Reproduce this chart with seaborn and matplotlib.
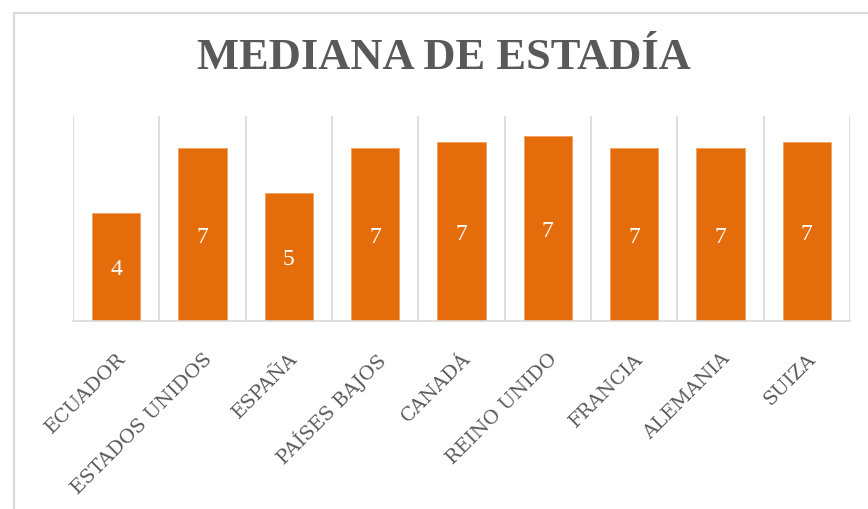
import matplotlib
matplotlib.use("Agg")
import matplotlib.pyplot as plt
import seaborn as sns
import pandas as pd
from matplotlib.patches import Rectangle

# Datos (dias, eje de 0 a 8)
paises = ['ECUADOR', 'ESTADOS UNIDOS', 'ESPAÑA', 'PAÍSES BAJOS', 'CANADÁ',
          'REINO UNIDO', 'FRANCIA', 'ALEMANIA', 'SUIZA']
mediana = [4.22, 6.76, 5.0, 6.76, 6.99, 7.23, 6.76, 6.76, 6.99]
titulo = 'MEDIANA DE ESTADÍA'

gris = '#595959'
naranja = '#E46C0A'

sns.set_theme(style='white')
plt.rcParams['font.family'] = ['Liberation Serif', 'DejaVu Serif']

df = pd.DataFrame({'pais': paises, 'mediana': mediana})

fig = plt.figure(figsize=(8.68, 5.10), dpi=100)
ax = fig.add_axes([73 / 868, 1 - 322 / 510, 777 / 868, 205 / 510])

sns.barplot(data=df, x='pais', y='mediana', color=naranja, saturation=1,
            width=0.56, edgecolor='#F0A060', linewidth=0.6, ax=ax)

# etiquetas de datos redondeadas, dentro de la barra
for i, v in enumerate(mediana):
    ax.text(i, v / 2 - 0.08, f'{v:.0f}', ha='center', va='center',
            color='white', fontsize=17)

ax.set_ylim(0, 8)
ax.set_xlim(-0.5, len(paises) - 0.5)
ax.set_yticks([])
ax.set_xlabel('')
ax.set_ylabel('')

# lineas verticales entre categorias
ax.set_xticks([i - 0.5 for i in range(len(paises) + 1)], minor=True)
ax.grid(True, which='minor', axis='x', color='#D9D9D9', linewidth=1.2)
ax.grid(False, which='major')
ax.set_axisbelow(True)

for s in ['top', 'left', 'right']:
    ax.spines[s].set_visible(False)
ax.spines['bottom'].set_color('#D9D9D9')
ax.spines['bottom'].set_linewidth(1.2)

ax.tick_params(axis='x', which='both', length=0, pad=20)
ax.set_xticks(range(len(paises)))
ax.set_xticklabels(paises, rotation=45, ha='right', rotation_mode='anchor',
                   fontsize=14, color=gris, family='DejaVu Serif')

fig.text(444 / 868, 1 - 58 / 510, titulo, ha='center', va='center',
         fontsize=32, fontweight='bold', color=gris)

# borde del area del grafico
fig.patches.append(Rectangle((14 / 868, -0.1), 1.2, 1 - 14 / 510 + 0.1,
                             transform=fig.transFigure, fill=False,
                             edgecolor='#D9D9D9', linewidth=1.5))

fig.savefig('out.png', dpi=100)
